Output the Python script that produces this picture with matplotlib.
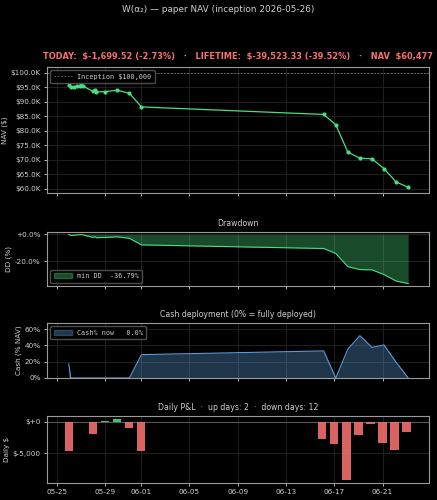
import matplotlib
matplotlib.use("Agg")
import matplotlib.pyplot as plt
import matplotlib.dates as mdates
from matplotlib.ticker import FuncFormatter, MultipleLocator
from matplotlib.patches import Patch
from matplotlib.lines import Line2D
import numpy as np
import pandas as pd

# ---------------- data ----------------
inception_nav = 100000
nav_times = ["2026-05-26 00:00", "2026-05-26 04:00", "2026-05-26 10:00", "2026-05-26 17:00",
             "2026-05-26 22:00", "2026-05-27 01:00", "2026-05-27 04:30", "2026-05-28 00:40",
             "2026-05-28 04:00", "2026-05-28 07:00", "2026-05-29 00:30", "2026-05-30 00:40",
             "2026-05-31 00:40", "2026-06-01 00:40", "2026-06-16 03:00", "2026-06-17 03:00",
             "2026-06-18 03:00", "2026-06-19 03:00", "2026-06-20 03:00", "2026-06-21 03:00",
             "2026-06-22 03:00", "2026-06-23 03:00"]
nav_values = [95676, 95000, 95050, 95400, 95550, 95650, 95350, 93550,
              94100, 93350, 93500, 93950, 92900, 88200, 85600, 82050,
              72600, 70500, 70300, 66900, 62300, 60476.67]
cash_pct = [17.3, 0, 0, 0, 0, 0, 0, 0,
            0, 0, 0, 0, 0, 28.7, 33.3, 0,
            35.5, 52.0, 37.6, 40.6, 19.4, 0.0]
pnl_dates = ["2026-05-26", "2026-05-28", "2026-05-29", "2026-05-30", "2026-05-31", "2026-06-01",
             "2026-06-16", "2026-06-17", "2026-06-18", "2026-06-19", "2026-06-20", "2026-06-21",
             "2026-06-22", "2026-06-23"]
pnl_values = [-4730, -1990, 150, 430, -1020, -4730,
              -2690, -3600, -9300, -2150, -320, -3390,
              -4570, -1699.52]

# ---------------- derived ----------------
t = pd.to_datetime(nav_times)
nav = np.array(nav_values, dtype=float)
peak = np.maximum.accumulate(nav)
dd = (nav / peak - 1) * 100
cash = np.array(cash_pct, dtype=float)
pd_dates = pd.to_datetime(pnl_dates)
pnl = np.array(pnl_values, dtype=float)

today = pnl[-1]
today_pct = today / (nav[-1] - today) * 100
life = nav[-1] - inception_nav
life_pct = life / inception_nav * 100
up_days = int((pnl > 0).sum())
down_days = int((pnl < 0).sum())

# ---------------- style ----------------
BG = "#000000"
FG = "#d0d0d0"
SPINE = "#9a9a9a"
GRID = "#242424"
GREEN = "#4ade80"
BLUE = "#5b9bd5"
RED = "#f87171"
FS = 5.2

plt.rcParams.update({
    "font.family": ["DejaVu Sans"],
    "font.size": FS,
    "text.color": FG,
    "axes.labelcolor": FG,
    "xtick.color": FG,
    "ytick.color": FG,
    "axes.edgecolor": SPINE,
    "figure.facecolor": BG,
    "axes.facecolor": BG,
})

fig = plt.figure(figsize=(4.37, 5.0), dpi=100)
W, H = 437, 500
def pos(l, r, top, bot):
    return [l / W, 1 - bot / H, (r - l) / W, (bot - top) / H]

ax1 = fig.add_axes(pos(47, 429, 67, 193))
ax2 = fig.add_axes(pos(47, 429, 232, 286), sharex=ax1)
ax3 = fig.add_axes(pos(47, 429, 323, 378), sharex=ax1)
ax4 = fig.add_axes(pos(47, 429, 416, 483), sharex=ax1)

for ax in (ax1, ax2, ax3, ax4):
    ax.grid(True, color=GRID, linewidth=0.6)
    ax.set_axisbelow(True)
    for s in ax.spines.values():
        s.set_color(SPINE)
        s.set_linewidth(0.8)
    ax.tick_params(labelsize=FS, length=2.5, width=0.6, colors=FG, pad=2)

leg_kw = dict(prop={"family": "DejaVu Sans Mono", "size": 4.9}, facecolor=BG,
              edgecolor="#555555", framealpha=0.9, labelcolor=FG,
              handlelength=2.6, borderpad=0.5)

# NAV
ax1.plot(t, nav, color=GREEN, lw=0.9, marker="o", ms=2.0, zorder=3)
ax1.axhline(inception_nav, color="#777777", lw=0.6, ls=(0, (2, 2)))
ax1.yaxis.set_major_formatter(FuncFormatter(lambda x, p: f"${x/1000:.1f}K"))
ax1.yaxis.set_major_locator(MultipleLocator(5000))
ax1.set_ylabel("NAV ($)", fontsize=FS, labelpad=2)
ax1.legend(handles=[Line2D([], [], color="#777777", lw=0.6, ls=(0, (2, 2)))],
           labels=[f"Inception ${inception_nav:,.0f}"], loc="upper left", **leg_kw)
fig.text((47 + 429) / 2 / W, 1 - 57 / H,
         f"TODAY:  ${today:,.2f} ({today_pct:+.2f}%)   ·   LIFETIME:  ${life:,.2f} ({life_pct:+.2f}%)   ·   NAV  ${nav[-1]:,.0f}",
         color=RED, fontsize=5.95, fontweight="bold", ha="center", va="center")
fig.text(0.5, 1 - 9 / H, "W(α₂) — paper NAV (inception 2026-05-26)",
         color=FG, fontsize=6.4, ha="center", va="center")

# Drawdown
ax2.fill_between(t, dd, 0, color=GREEN, alpha=0.34, lw=0)
ax2.plot(t, dd, color=GREEN, lw=0.8)
ax2.yaxis.set_major_formatter(FuncFormatter(lambda x, p: f"{x:+.1f}%"))
ax2.yaxis.set_major_locator(MultipleLocator(20))
ax2.set_ylabel("DD (%)", fontsize=FS, labelpad=2)
ax2.set_title("Drawdown", fontsize=FS + 0.4, color=FG, pad=4)
ax2.legend(handles=[Patch(facecolor=GREEN, alpha=0.34, edgecolor=GREEN)],
           labels=[f"min DD  {dd.min():.2f}%"], loc="lower left", **leg_kw)

# Cash
ax3.fill_between(t, cash, 0, color=BLUE, alpha=0.35, lw=0)
ax3.plot(t, cash, color=BLUE, lw=0.8)
ax3.set_ylim(0, cash.max() * 1.3)
ax3.yaxis.set_major_formatter(FuncFormatter(lambda x, p: f"{x:.0f}%"))
ax3.yaxis.set_major_locator(MultipleLocator(20))
ax3.set_ylabel("Cash (% NAV)", fontsize=FS, labelpad=2)
ax3.set_title("Cash deployment (0% = fully deployed)", fontsize=FS + 0.4, color=FG, pad=4)
ax3.legend(handles=[Patch(facecolor=BLUE, alpha=0.35, edgecolor=BLUE)],
           labels=[f"Cash% now   {cash[-1]:.1f}%"], loc="upper left", **leg_kw)

# Daily P&L
colors = [GREEN if v > 0 else RED for v in pnl]
ax4.bar(pd_dates, pnl, width=0.7, color=colors, alpha=0.88, zorder=3)
ax4.axhline(0, color="#666666", lw=0.6, zorder=2)
ax4.yaxis.set_major_locator(MultipleLocator(5000))
ax4.yaxis.set_major_formatter(FuncFormatter(lambda x, p: f"${x:+,.0f}"))
ax4.set_ylabel("Daily $", fontsize=FS, labelpad=2)
ax4.set_title(f"Daily P&L  ·  up days: {up_days}  ·  down days: {down_days}",
              fontsize=FS + 0.4, color=FG, pad=4)

ax4.xaxis.set_major_locator(mdates.DayLocator(bymonthday=[1, 5, 9, 13, 17, 21, 25, 29]))
ax4.xaxis.set_major_formatter(mdates.DateFormatter("%m-%d"))
for ax in (ax1, ax2, ax3):
    ax.tick_params(labelbottom=False)
x0 = mdates.date2num(pd.Timestamp("2026-05-25"))
ax4.set_xlim(x0 - 0.8, x0 + 30.85)

fig.savefig("out.png", dpi=100, facecolor=BG)
